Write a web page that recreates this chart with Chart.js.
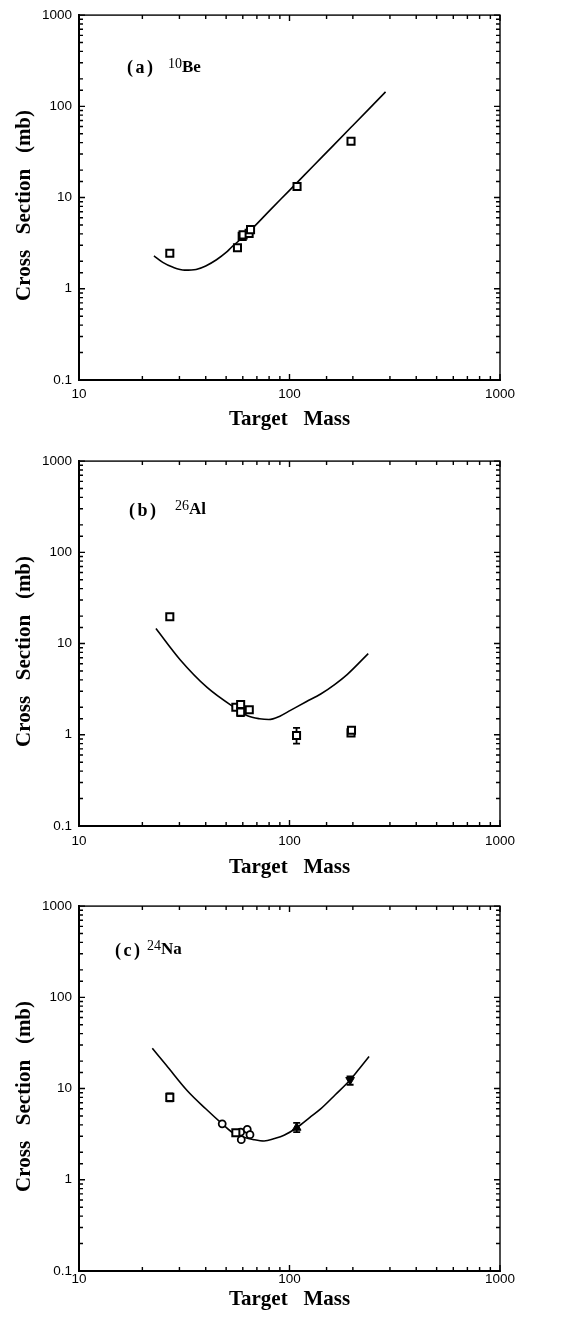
<!DOCTYPE html>
<html>
<head>
<meta charset="utf-8">
<script src="https://cdn.jsdelivr.net/npm/chart.js@4.4.1/dist/chart.umd.min.js"></script>
<style>
  html, body { margin: 0; padding: 0; background: #fff; }
  #page { position: relative; width: 564px; height: 1319px; overflow: hidden; }
  canvas { position: absolute; left: 0; }
  .tag { position: absolute; font-family: 'Liberation Serif', serif; font-weight: bold; font-size: 18px; line-height: 20px; letter-spacing: 2.5px; white-space: pre; }
  .iso { position: absolute; font-family: 'Liberation Serif', serif; font-weight: bold; font-size: 17px; line-height: 20px; }
  .iso sup { font-size: 14px; font-weight: normal; vertical-align: 4px; line-height: 0; }
</style>
</head>
<body>
<div id="page">
  <canvas id="chartBe" width="564" height="440" style="top:0px"></canvas>
  <canvas id="chartAl" width="564" height="440" style="top:446px"></canvas>
  <canvas id="chartNa" width="564" height="428" style="top:891px"></canvas>
  <div class="tag" style="left:127px; top:57px">(a)</div>
  <div class="iso" style="left:168px; top:57px"><sup>10</sup>Be</div>
  <div class="tag" style="left:129px; top:500px">(b)</div>
  <div class="iso" style="left:175px; top:499px"><sup>26</sup>Al</div>
  <div class="tag" style="left:115px; top:940px">(c)</div>
  <div class="iso" style="left:147px; top:939px"><sup>24</sup>Na</div>
</div>
<script>
// Axis ticks
const xTicks = [10, 100, 1000];
const yTicks = [0.1, 1, 10, 100, 1000];

// (a) 10Be
const beMass = [27, 56.6, 59.6, 60.2, 64.3, 65.3, 108.6, 196];
const beXs = [2.45, 2.82, 3.75, 3.9, 4.05, 4.45, 13.2, 41.4];
const beCurveMass = [22.7, 25, 28, 31.8, 36, 40, 45, 50, 53, 57, 62, 67, 80, 100, 130, 160, 200, 240, 286];
const beCurveXs = [2.3, 1.95, 1.72, 1.6, 1.63, 1.78, 2.08, 2.5, 2.85, 3.3, 3.95, 4.65, 7.1, 12.0, 22.3, 36.4, 61.7, 95, 144];

// (b) 26Al
const alMass = [27, 55.6, 58.6, 58.6, 64.4, 108, 196, 197];
const alXs = [19.7, 2.0, 2.15, 1.77, 1.88, 0.98, 1.05, 1.12];
const alErrLo = [null, null, null, 1.6, null, 0.8, null, null];
const alErrHi = [null, null, null, 1.77, null, 1.19, null, null];
const alCurveMass = [23.2, 30.3, 40.6, 54.5, 63.1, 72, 79.8, 90, 101, 120, 140.7, 165, 188.4, 236.6];
const alCurveXs = [14.6, 6.6, 3.3, 2.0, 1.62, 1.5, 1.47, 1.6, 1.85, 2.3, 2.8, 3.6, 4.6, 7.76];

// (c) 24Na
const naSqMass = [27, 55.6];
const naSqXs = [8.0, 3.28];
const naSqErrLo = [7.25, null];
const naSqErrHi = [8.86, null];
const naCircMass = [47.9, 58.6, 59, 63, 64.9];
const naCircXs = [4.1, 3.33, 2.75, 3.57, 3.12];
const naTriMass = [108.2, 194];
const naTriXs = [3.72, 12.4];
const naTriErrLo = [3.33, 11.0];
const naTriErrHi = [4.2, 13.6];
const naCurveMass = [22.3, 26, 32.7, 40, 47.9, 54.5, 60, 67.8, 75.7, 85, 94.2, 108.2, 125, 140.6, 165, 194, 215, 238.8];
const naCurveXs = [27.6, 18, 9.47, 6.0, 4.1, 3.2, 2.95, 2.75, 2.66, 2.83, 3.07, 3.72, 4.83, 5.98, 8.55, 12.4, 16.6, 22.4];

const pts = (xs, ys) => xs.map((x, i) => ({ x: x, y: ys[i] }));
const isDecade = v => Math.abs(Math.log10(v) - Math.round(Math.log10(v))) < 1e-6;
const labelFor = list => v => {
    const hit = list.find(t => Math.abs(t - v) < t * 1e-6);
    return hit === undefined ? '' : String(hit);
};

// inward ticks on all four sides plus the box outline
const boxTicks = {
    id: 'boxTicks',
    afterDraw(chart) {
        const { ctx, chartArea: a } = chart;
        const x = chart.scales.x, y = chart.scales.y;
        ctx.save();
        ctx.strokeStyle = '#000';
        ctx.lineWidth = 1.4;
        ctx.strokeRect(a.left, a.top, a.right - a.left, a.bottom - a.top);
        ctx.beginPath();
        x.ticks.forEach(t => {
            const px = x.getPixelForValue(t.value);
            const len = isDecade(t.value) ? 6 : 4;
            ctx.moveTo(px, a.bottom); ctx.lineTo(px, a.bottom - len);
            ctx.moveTo(px, a.top); ctx.lineTo(px, a.top + len);
        });
        y.ticks.forEach(t => {
            const py = y.getPixelForValue(t.value);
            const len = isDecade(t.value) ? 6 : 4;
            ctx.moveTo(a.left, py); ctx.lineTo(a.left + len, py);
            ctx.moveTo(a.right, py); ctx.lineTo(a.right - len, py);
        });
        ctx.stroke();
        ctx.restore();
    }
};

// vertical error bars, drawn under the markers
const errorBars = {
    id: 'errorBars',
    beforeDatasetsDraw(chart) {
        const { ctx } = chart;
        const y = chart.scales.y;
        ctx.save();
        ctx.strokeStyle = '#000';
        ctx.lineWidth = 1.8;
        chart.data.datasets.forEach((ds, i) => {
            if (!ds.errLo) return;
            const meta = chart.getDatasetMeta(i);
            meta.data.forEach((pt, j) => {
                if (ds.errLo[j] == null) return;
                const top = y.getPixelForValue(ds.errHi[j]);
                const bot = y.getPixelForValue(ds.errLo[j]);
                ctx.beginPath();
                ctx.moveTo(pt.x, top); ctx.lineTo(pt.x, bot);
                ctx.moveTo(pt.x - 3.5, top); ctx.lineTo(pt.x + 3.5, top);
                ctx.moveTo(pt.x - 3.5, bot); ctx.lineTo(pt.x + 3.5, bot);
                ctx.stroke();
            });
        });
        ctx.restore();
    }
};

function squares(xs, ys, extra) {
    return Object.assign({
        data: pts(xs, ys),
        showLine: false,
        pointStyle: 'rect',
        pointRadius: 5,
        pointBorderWidth: 2,
        pointBackgroundColor: '#fff',
        pointBorderColor: '#000'
    }, extra || {});
}

function curve(xs, ys) {
    return {
        data: pts(xs, ys),
        showLine: true,
        pointRadius: 0,
        borderColor: '#000',
        borderWidth: 1.6,
        cubicInterpolationMode: 'monotone'
    };
}

function makePanel(canvasId, datasets, p) {
    const ctx = document.getElementById(canvasId);
    return new Chart(ctx, {
        type: 'scatter',
        data: { datasets: datasets },
        plugins: [errorBars, boxTicks],
        options: {
            responsive: false,
            animation: false,
            events: [],
            layout: { padding: { top: 13, right: 64, left: 0, bottom: 0 } },
            plugins: { legend: { display: false }, tooltip: { enabled: false } },
            scales: {
                x: {
                    type: 'logarithmic',
                    min: 10,
                    max: 1000,
                    afterFit: s => { s.height = p.xAxisHeight; },
                    ticks: {
                        autoSkip: false,
                        maxRotation: 0,
                        padding: p.xTickPad,
                        color: '#000',
                        font: { family: 'Liberation Sans', size: 13.5 },
                        callback: labelFor(xTicks)
                    },
                    grid: { drawOnChartArea: false, drawTicks: false },
                    border: { display: true, color: '#000', width: 2 },
                    title: {
                        display: true,
                        text: 'Target   Mass',
                        color: '#000',
                        font: { family: 'Liberation Serif', size: 21, weight: 'bold', lineHeight: 1 },
                        padding: { top: 0, bottom: p.xTitlePad }
                    }
                },
                y: {
                    type: 'logarithmic',
                    min: 0.1,
                    max: 1000,
                    afterFit: s => { s.width = 79; },
                    ticks: {
                        autoSkip: false,
                        padding: 7,
                        color: '#000',
                        font: { family: 'Liberation Sans', size: 13.5 },
                        callback: labelFor(yTicks)
                    },
                    grid: { drawOnChartArea: false, drawTicks: false },
                    border: { display: true, color: '#000', width: 2 },
                    title: {
                        display: true,
                        text: 'Cross   Section   (mb)   ',
                        color: '#000',
                        font: { family: 'Liberation Serif', size: 21, weight: 'bold', lineHeight: 1 },
                        padding: { top: 14, bottom: 0 }
                    }
                }
            }
        }
    });
}

makePanel('chartBe', [
    squares(beMass, beXs),
    curve(beCurveMass, beCurveXs)
], { xAxisHeight: 60, xTickPad: 6, xTitlePad: 10 });

makePanel('chartAl', [
    squares(alMass, alXs, { errLo: alErrLo, errHi: alErrHi }),
    curve(alCurveMass, alCurveXs)
], { xAxisHeight: 60, xTickPad: 7, xTitlePad: 8 });

makePanel('chartNa', [
    squares(naSqMass, naSqXs, { errLo: naSqErrLo, errHi: naSqErrHi }),
    squares(naCircMass, naCircXs, { pointStyle: 'circle', pointRadius: 3.5, pointBorderWidth: 1.8 }),
    squares(naTriMass, naTriXs, {
        errLo: naTriErrLo, errHi: naTriErrHi,
        pointStyle: 'triangle', pointRadius: 5, pointBorderWidth: 1,
        pointBackgroundColor: '#000', pointRotation: [0, 180]
    }),
    curve(naCurveMass, naCurveXs)
], { xAxisHeight: 48, xTickPad: 0, xTitlePad: 9 });
</script>
</body>
</html>
